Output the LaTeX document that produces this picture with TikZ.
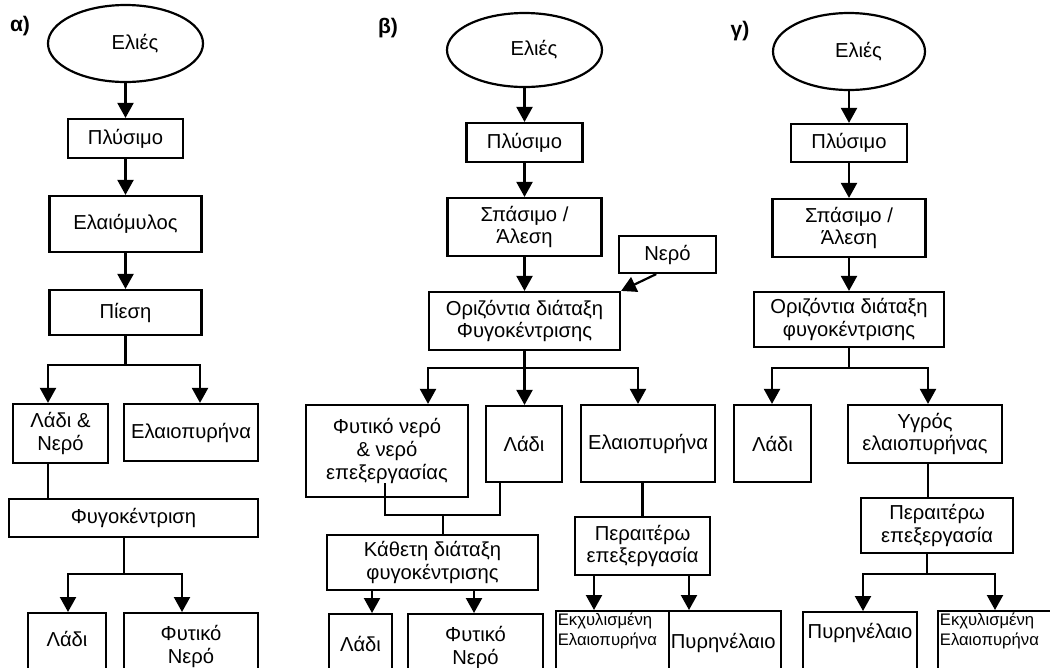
\documentclass[tikz,border=0pt]{standalone}
\usepackage{fontspec}
\setmainfont{Liberation Sans}
\usetikzlibrary{arrows.meta,shapes.geometric}

\begin{document}
\begin{tikzpicture}[x=0.02cm, y=-0.02cm, line width=1.25pt,
    box/.style={draw, rectangle, align=center, inner sep=2pt, font=\fontsize{11.5}{13}\selectfont},
    oval/.style={draw, ellipse, inner sep=1pt, label={[intext, xshift=0.19cm]center:Ελιές}},
    sz/.style 2 args={minimum width=#1*0.02cm, minimum height=#2*0.02cm},
    bot/.style={box, anchor=north},
    intext/.style={inner sep=1pt, align=center, font=\fontsize{11.5}{12.8}\selectfont},
    smalltxt/.style={inner sep=1pt, align=left, font=\fontsize{9.5}{11.5}\selectfont},
    tag/.style={font=\fontsize{12}{14}\selectfont\bfseries},
    arr/.style={-{Triangle[width=0.32cm, length=0.3cm]}}]

    \useasboundingbox (0,0) rectangle (1050,667);
    \clip (0,0) rectangle (1050,667);

    % a)
    \node[tag] (a-tag) at (20,26) {α)};
    \node[oval, sz={155}{77}] (a-eli) at (125.5,43.5) {};
    \node[box, sz={115}{39}] (a-plys) at (125.5,138.5) {Πλύσιμο};
    \node[box, sz={152}{56}] (a-mylos) at (125.5,224) {Ελαιόμυλος};
    \node[box, sz={152}{45}] (a-piesi) at (125.5,312.5) {Πίεση};
    \node[box, sz={95}{59}] (a-ladinero) at (60.5,433.5) {Λάδι \&\\Νερό};
    \node[box, sz={134}{57}] (a-pyrina) at (191,432.5) {Ελαιοπυρήνα};
    \node[box, sz={249}{38}] (a-fygo) at (133.5,518) {Φυγοκέντριση};
    \node[bot, sz={78}{80}, label={[intext, anchor=north, yshift=-0.33cm]north:Λάδι}] (a-ladi) at (67,612) {};
    \node[bot, sz={134}{80}, label={[intext, anchor=north, yshift=-0.21cm]north:{Φυτικό\\Νερό}}] (a-fyto) at (191,612) {};

    \coordinate (a-m1) at (125.5,365);
    \coordinate (a-l1) at (48,365);
    \coordinate (a-r1) at (200,365);
    \coordinate (a-m2) at (124,574);
    \coordinate (a-l2) at (68,574);
    \coordinate (a-r2) at (182,574);

    \draw[arr] (a-eli) -- (a-plys);
    \draw[arr] (a-plys) -- (a-mylos);
    \draw[arr] (a-mylos) -- (a-piesi);
    \draw[arr] (a-piesi) -- (a-m1) -- (a-l1) -- (a-l1 |- a-ladinero.north);
    \draw[arr] (a-m1) -- (a-r1) -- (a-r1 |- a-pyrina.north);
    \draw (a-l1 |- a-ladinero.south) -- (a-l1 |- a-fygo.north);
    \draw[arr] (a-m2 |- a-fygo.south) -- (a-m2) -- (a-l2) -- (a-l2 |- a-ladi.north);
    \draw[arr] (a-m2) -- (a-r2) -- (a-r2 |- a-fyto.north);

    % b)
    \node[tag] (b-tag) at (388,28) {β)};
    \node[oval, sz={155}{74}] (b-eli) at (524.5,50) {};
    \node[box, sz={116}{39}] (b-plys) at (524.5,142.5) {Πλύσιμο};
    \node[box, sz={154}{58}] (b-spas) at (524.5,227) {Σπάσιμο /\\Άλεση};
    \node[box, sz={97}{37}] (b-nero) at (667.5,254.5) {Νερό};
    \node[box, sz={191}{58}] (b-oriz) at (524.5,321) {Οριζόντια διάταξη\\Φυγοκέντρισης};
    \node[box, sz={162}{92}] (b-fyto) at (387,451) {Φυτικό νερό\\\& νερό\\επεξεργασίας};
    \node[box, sz={76}{76}] (b-ladi) at (524,444) {Λάδι};
    \node[box, sz={134}{77}] (b-pyr) at (648,443.5) {Ελαιοπυρήνα};
    \node[box, sz={211}{55}] (b-kath) at (432.5,562.5) {Κάθετη διάταξη\\φυγοκέντρισης};
    \node[box, sz={135}{58}] (b-per) at (642.5,546) {Περαιτέρω\\επεξεργασία};
    \node[bot, sz={63}{80}, label={[intext, anchor=north, yshift=-0.41cm]north:Λάδι}] (b-ladi2) at (360.5,613) {};
    \node[bot, sz={135}{80}, label={[intext, anchor=north, yshift=-0.21cm]north:{Φυτικό\\Νερό}}] (b-fyto2) at (475.5,613) {};
    \node[bot, anchor=north west, sz={113}{80}, label={[smalltxt, anchor=north west]north west:{Εκχυλισμένη\\Ελαιοπυρήνα}}] (b-ekx) at (555,610) {};
    \node[bot, anchor=north west, sz={112}{80}, label={[intext, anchor=north west, yshift=-0.41cm]north west:Πυρηνέλαιο}] (b-pyrel) at (668,610) {};

    \coordinate (b-m1) at (524.5,368);
    \coordinate (b-l1) at (428,368);
    \coordinate (b-r1) at (638,368);
    \coordinate (b-j1) at (385,515);
    \coordinate (b-j2) at (500,515);
    \coordinate (b-j3) at (443,515);
    \coordinate (b-k1) at (372,0);
    \coordinate (b-k2) at (474,0);
    \coordinate (b-p1) at (594,0);
    \coordinate (b-p2) at (689,0);

    \draw[arr] (b-eli) -- (b-plys);
    \draw[arr] (b-plys) -- (b-spas);
    \draw[arr] (b-spas) -- (b-oriz);
    \draw[arr] (b-nero.240) -- (b-oriz.north east);
    \draw[arr] (b-oriz) -- (b-m1) -- (b-l1) -- (b-l1 |- b-fyto.north);
    \draw[arr] (b-m1) -- (b-r1) -- (b-r1 |- b-pyr.north);
    \draw[arr] (b-m1) -- (b-m1 |- b-ladi.north);
    \draw (b-j1 |- b-ladi.south) -- (b-j1) -- (b-j2) -- (b-j2 |- b-ladi.south);
    \draw (b-j3) -- (b-j3 |- b-kath.north);
    \draw[arr] (b-k1 |- b-kath.south) -- (b-k1 |- b-ladi2.north);
    \draw[arr] (b-k2 |- b-kath.south) -- (b-k2 |- b-fyto2.north);
    \draw (b-per.north |- b-pyr.south) -- (b-per.north);
    \draw[arr] (b-p1 |- b-per.south) -- (b-p1 |- b-ekx.north);
    \draw[arr] (b-p2 |- b-per.south) -- (b-p2 |- b-pyrel.north);

    % c)
    \node[tag] (g-tag) at (740,31) {γ)};
    \node[oval, sz={152}{77}] (g-eli) at (849,51.5) {};
    \node[box, sz={116}{38}] (g-plys) at (849,143) {Πλύσιμο};
    \node[box, sz={153}{58}] (g-spas) at (849,228) {Σπάσιμο /\\Άλεση};
    \node[box, sz={190}{55}] (g-oriz) at (849,319.5) {Οριζόντια διάταξη\\φυγοκέντρισης};
    \node[box, sz={77}{77}] (g-ladi) at (772.5,443.5) {Λάδι};
    \node[box, sz={154}{58}] (g-ygro) at (925,434) {Υγρός\\ελαιοπυρήνας};
    \node[box, sz={152}{55}] (g-per) at (937,525.5) {Περαιτέρω\\επεξεργασία};
    \node[bot, sz={114}{80}, label={[intext, anchor=north, yshift=-0.19cm]north:Πυρηνέλαιο}] (g-pyrel) at (860,611) {};
    \node[bot, anchor=north west, sz={130}{80}, label={[smalltxt, anchor=north west]north west:{Εκχυλισμένη\\Ελαιοπυρήνα}}] (g-ekx) at (937,610) {};

    \coordinate (g-m1) at (849,368);
    \coordinate (g-l1) at (772,368);
    \coordinate (g-r1) at (928,368);
    \coordinate (g-m2) at (927,574);
    \coordinate (g-l2) at (863,574);
    \coordinate (g-r2) at (995,574);

    \draw[arr] (g-eli) -- (g-plys);
    \draw[arr] (g-plys) -- (g-spas);
    \draw[arr] (g-spas) -- (g-oriz);
    \draw[arr] (g-oriz) -- (g-m1) -- (g-l1) -- (g-l1 |- g-ladi.north);
    \draw[arr] (g-m1) -- (g-r1) -- (g-r1 |- g-ygro.north);
    \draw (g-r1 |- g-ygro.south) -- (g-r1 |- g-per.north);
    \draw[arr] (g-m2 |- g-per.south) -- (g-m2) -- (g-l2) -- (g-l2 |- g-pyrel.north);
    \draw[arr] (g-m2) -- (g-r2) -- (g-r2 |- g-ekx.north);
\end{tikzpicture}
\end{document}
